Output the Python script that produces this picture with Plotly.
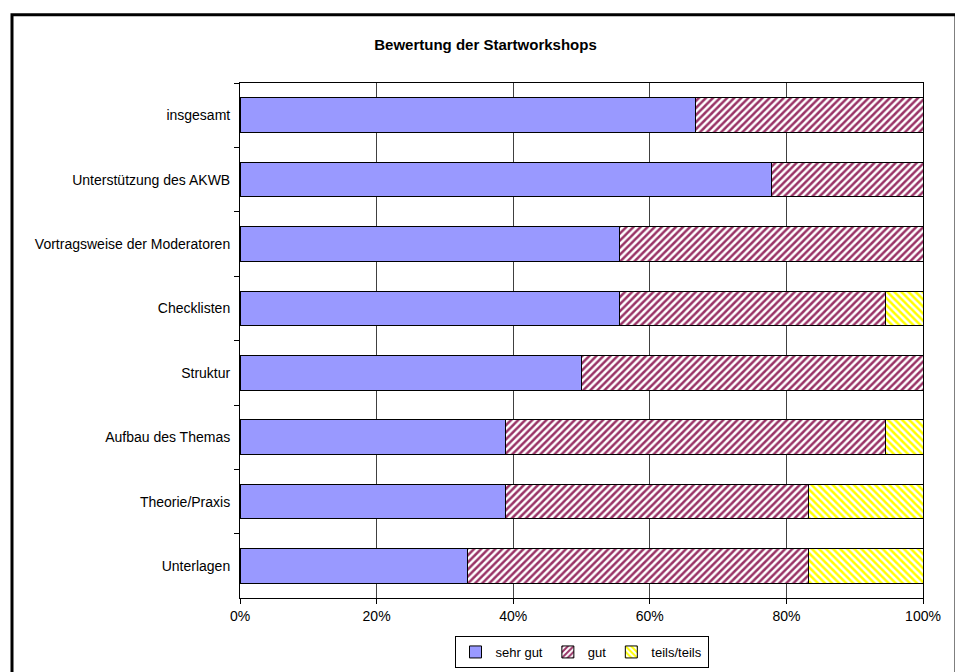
import plotly.graph_objects as go

categories = ["insgesamt", "Unterstützung des AKWB", "Vortragsweise der Moderatoren",
              "Checklisten", "Struktur", "Aufbau des Themas", "Theorie/Praxis", "Unterlagen"]
sehr_gut = [66.7, 77.8, 55.6, 55.6, 50.0, 38.9, 38.9, 33.3]
gut = [33.3, 22.2, 44.4, 38.9, 50.0, 55.6, 44.4, 50.0]
teils = [0.0, 0.0, 0.0, 5.6, 0.0, 5.6, 16.7, 16.7]
x_ticks = [0, 20, 40, 60, 80, 100]
x_tick_labels = ["0%", "20%", "40%", "60%", "80%", "100%"]

FONT = "Liberation Sans, Arial, sans-serif"
edge = dict(color="#000000", width=1)

# page body adds an 8px margin; figure is sized/placed to compensate
W, H = 955, 664
L, T, R, B = 232, 75, 40, 68
PW, PH = W - L - R, H - T - B

fig = go.Figure()
fig.add_trace(go.Bar(y=categories, x=sehr_gut, orientation="h", name="sehr gut",
                     marker=dict(color="#9999FF", line=edge)))
fig.add_trace(go.Bar(y=categories, x=gut, orientation="h", name="gut",
                     marker=dict(color="#993366", line=edge,
                                 pattern=dict(shape="/", fgcolor="#993366", bgcolor="#FFFFFF",
                                              size=5, solidity=0.5, fillmode="replace"))))
fig.add_trace(go.Bar(y=categories, x=teils, orientation="h", name="teils/teils",
                     marker=dict(color="#FFFF00", line=edge,
                                 pattern=dict(shape="\\", fgcolor="#FFFF00", bgcolor="#FFFFFF",
                                              size=5, solidity=0.5, fillmode="replace"))))

fig.update_layout(
    width=W, height=H,
    barmode="stack", bargap=0.46,
    paper_bgcolor="white", plot_bgcolor="white",
    margin=dict(l=L, r=R, t=T, b=B),
    font=dict(family=FONT, size=14, color="black"),
    title=dict(text="<b>Bewertung der Startworkshops</b>", x=0.5, xanchor="center",
               y=1 - 37 / H, yanchor="middle", font=dict(size=15, family=FONT)),
    showlegend=True,
    legend=dict(orientation="h", xref="paper", x=0.5, xanchor="center",
                yref="container", y=1 - 628 / H, yanchor="top",
                bordercolor="black", borderwidth=1, font=dict(size=13),
                itemwidth=30, tracegroupgap=0, traceorder="normal"),
    xaxis=dict(range=[0, 100], tickvals=x_ticks, ticktext=x_tick_labels,
               showgrid=True, gridcolor="#404040", gridwidth=1,
               showline=True, linecolor="black", linewidth=1, mirror=True,
               ticks="outside", ticklen=5, tickcolor="black", zeroline=False,
               tickfont=dict(size=14)),
    yaxis=dict(categoryorder="array", categoryarray=categories, autorange="reversed",
               showline=True, linecolor="black", linewidth=1, mirror=True,
               ticks="outside", ticklen=5, tickcolor="black", tickson="boundaries",
               showgrid=False, ticklabelstandoff=6, tickfont=dict(size=14)),
    shapes=[dict(type="rect", xref="paper", yref="paper",
                 x0=(4 - L) / PW, x1=(948 - L) / PW,
                 y0=(T + PH - (H + 20)) / PH, y1=(T + PH - 6) / PH,
                 line=dict(color="black", width=3), fillcolor="rgba(0,0,0,0)", layer="above")],
)

fig.write_html("out.html")
